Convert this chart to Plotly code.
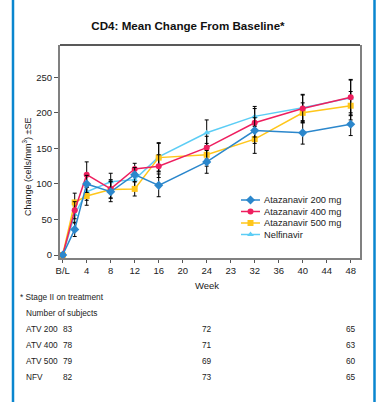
import plotly.graph_objects as go

weeks = [0, 2, 4, 8, 12, 16, 24, 32, 40, 48]
atv200 = [0, 36, 100, 89, 113, 98, 131, 175, 172, 184]
atv200_se = [0, 10, 12, 14, 10, 16, 16, 18, 16, 16]
atv400 = [0, 63, 113, 93, 121, 125, 151, 186, 206, 222]
atv400_se = [0, 12, 18, 13, 8, 16, 16, 20, 20, 25]
atv500 = [0, 74, 83, 92, 93, 137, 141, 163, 200, 210]
atv500_se = [0, 13, 13, 12, 10, 20, 16, 20, 14, 20]
nfv = [0, 57, 89, 103, 106, 138, 172, 195, 207, 221]
nfv_se = [0, 12, 12, 12, 10, 20, 18, 14, 18, 25]

tick_vals = [0, 4, 8, 12, 16, 20, 24, 28, 32, 36, 40, 44, 48]
tick_text = ["B/L", "4", "8", "12", "16", "20", "24", "23", "32", "36", "40", "44", "48"]

subj_weeks = [0, 24, 48]
subj_groups = ["ATV 200", "ATV 400", "ATV 500", "NFV"]
subj_counts = [[83, 72, 65], [78, 71, 63], [79, 69, 60], [82, 73, 65]]

W, H = 376, 402
ML, MR, MT, MB = 60, 16, 45, 144
PW, PH = W - ML - MR, H - MT - MB

def px(x):
    return (x - ML) / PW

def py(y):
    return (H - MB - y) / PH

# name, values, se, color, symbol, size, legend row (pixel y)
series = [
    ("Nelfinavir", nfv, nfv_se, "#5ccdf5", "triangle-up", 6, 234.5),
    ("Atazanavir 500 mg", atv500, atv500_se, "#ffc61a", "square", 6, 223),
    ("Atazanavir 400 mg", atv400, atv400_se, "#ee1f5f", "circle", 6, 211.5),
    ("Atazanavir 200 mg", atv200, atv200_se, "#2b87cc", "diamond", 7, 200),
]

font = "Liberation Sans, Arial, sans-serif"
txt = "#222"

fig = go.Figure()
for name, vals, se, color, sym, size, _ in series:
    fig.add_trace(go.Scatter(
        x=weeks, y=vals, name=name, mode="lines+markers", showlegend=False,
        line=dict(color=color, width=1.5),
        marker=dict(symbol=sym, size=size, color=color),
        error_y=dict(type="data", array=se, color="black", thickness=1, width=2),
    ))

# legend keys drawn on an overlay axis in pixel units
annotations = []
for name, vals, se, color, sym, size, ly in series:
    fig.add_trace(go.Scatter(
        x=[241, 260], y=[ly, ly], mode="lines", xaxis="x2", yaxis="y2",
        line=dict(color=color, width=1.5), showlegend=False, hoverinfo="skip"))
    fig.add_trace(go.Scatter(
        x=[250.5], y=[ly], mode="markers", xaxis="x2", yaxis="y2",
        marker=dict(symbol=sym, size=size, color=color), showlegend=False, hoverinfo="skip"))
    annotations.append(dict(text=name, x=px(262), xref="paper", y=py(ly), yref="paper",
                            showarrow=False, font=dict(size=9.3, color=txt),
                            xanchor="left", yanchor="middle"))

annotations += [
    dict(text="Change (cells/mm<sup>3</sup>) ±SE", x=px(27), xref="paper", y=py(167), yref="paper",
         textangle=-90, showarrow=False, font=dict(size=9, color=txt),
         xanchor="center", yanchor="middle"),
    dict(text="Week", x=24, xref="x", y=py(285), yref="paper", showarrow=False,
         font=dict(size=9.5, color=txt), xanchor="center", yanchor="middle"),
    dict(text="* Stage II on treatment", x=px(18), xref="paper", y=py(297), yref="paper",
         showarrow=False, font=dict(size=8.3, color=txt), xanchor="left", yanchor="middle"),
    dict(text="Number of subjects", x=px(24), xref="paper", y=py(313), yref="paper",
         showarrow=False, font=dict(size=8.3, color=txt), xanchor="left", yanchor="middle"),
]
row_y = [329, 345, 361, 377]
for g, counts, ry in zip(subj_groups, subj_counts, row_y):
    annotations.append(dict(text=g, x=px(24), xref="paper", y=py(ry), yref="paper",
                            showarrow=False, font=dict(size=8.3, color=txt),
                            xanchor="left", yanchor="middle"))
    for wk, c in zip(subj_weeks, counts):
        annotations.append(dict(text=str(c), x=wk if wk > 0 else 0.8, xref="x", y=py(ry), yref="paper",
                                showarrow=False, font=dict(size=8.3, color=txt),
                                xanchor="center", yanchor="middle"))

shapes = [
    dict(type="line", xref="paper", yref="paper", x0=0, x1=1, y0=1, y1=1,
         line=dict(color="#222", width=1.5)),
    dict(type="line", xref="paper", yref="paper", x0=px(13), x1=px(13), y0=py(0), y1=py(402),
         line=dict(color="#0a86cf", width=2.5)),
    dict(type="line", xref="paper", yref="paper", x0=px(374.5), x1=px(374.5), y0=py(0), y1=py(402),
         line=dict(color="#0a86cf", width=2.5)),
]

fig.update_layout(
    width=W, height=H,
    margin=dict(l=ML, r=MR, t=MT, b=MB),
    paper_bgcolor="white", plot_bgcolor="white",
    font=dict(family=font, size=9, color=txt),
    title=dict(text="<b>CD4: Mean Change From Baseline*</b>", x=0.5, xanchor="center",
               y=1 - 26 / H, yanchor="middle", font=dict(size=11.6, color="#111")),
    showlegend=False,
    hovermode=False,
    xaxis=dict(range=[-0.45, 49.55], tickvals=tick_vals, ticktext=tick_text,
               showgrid=False, zeroline=False, showline=True, linecolor="#808080", linewidth=2,
               ticks="outside", ticklen=3, tickcolor="#555", tickfont=dict(size=9.5)),
    yaxis=dict(range=[-4.2, 295.4], tickvals=[0, 50, 100, 150, 200, 250],
               showgrid=False, zeroline=False, showline=True, linecolor="#808080", linewidth=2,
               mirror=True, ticks="outside", ticklen=4, tickcolor="#555", tickfont=dict(size=9.5)),
    xaxis2=dict(range=[ML, W - MR], overlaying="x", anchor="y2", visible=False, fixedrange=True),
    yaxis2=dict(range=[H - MB, MT], overlaying="y", anchor="x2", visible=False, fixedrange=True),
    annotations=annotations,
    shapes=shapes,
)

fig.write_html("out.html", config={"displayModeBar": False, "staticPlot": True},
               post_script="document.body.style.margin='0';document.body.style.overflow='hidden';")
